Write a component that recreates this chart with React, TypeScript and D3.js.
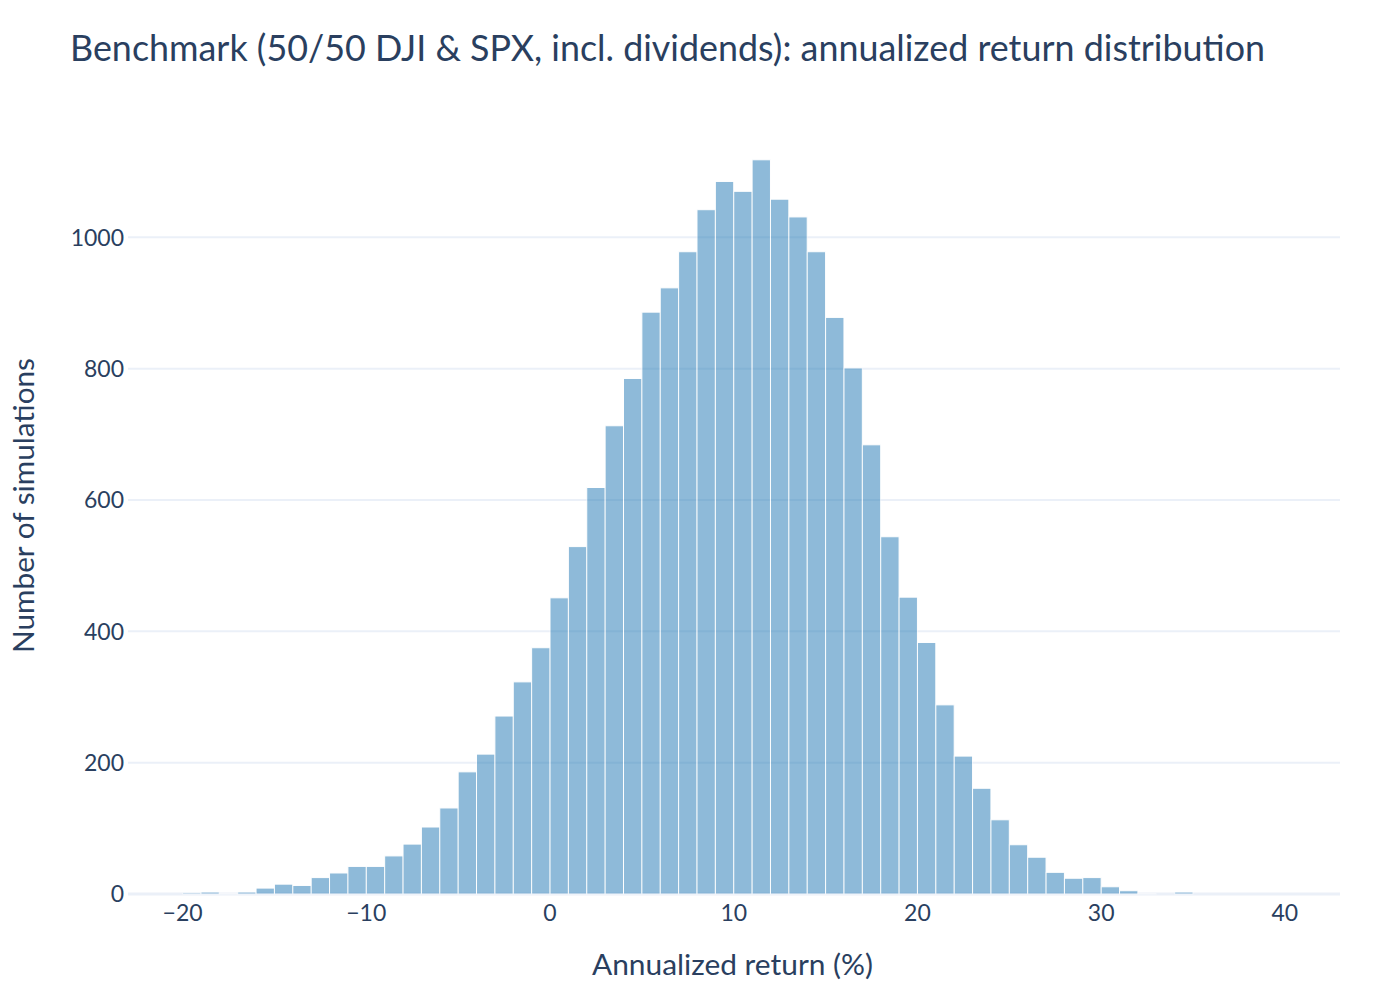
import React from 'react';
import * as d3 from 'd3';

// histogram bins: each bin spans [start, start + 1) in annualized return %
const binStarts = [
  -20, -19, -18, -17, -16, -15, -14, -13, -12, -11,
  -10, -9, -8, -7, -6, -5, -4, -3, -2, -1,
  0, 1, 2, 3, 4, 5, 6, 7, 8, 9,
  10, 11, 12, 13, 14, 15, 16, 17, 18, 19,
  20, 21, 22, 23, 24, 25, 26, 27, 28, 29,
  30, 31, 32, 33, 34,
];
const binCounts = [
  2, 3, 1, 3, 9, 15, 13, 25, 32, 42,
  42, 58, 76, 102, 131, 186, 213, 271, 323, 375,
  451, 529, 619, 713, 785, 886, 923, 978, 1042, 1085,
  1070, 1118, 1058, 1031, 978, 878, 801, 684, 544, 452,
  383, 288, 210, 161, 113, 75, 56, 33, 24, 25,
  11, 5, 1, 0, 3,
];
const binWidth = 1;

const xTicks = [-20, -10, 0, 10, 20, 30, 40];
const yTicks = [0, 200, 400, 600, 800, 1000];

const title = 'Benchmark (50/50 DJI & SPX, incl. dividends): annualized return distribution';
const xTitle = 'Annualized return (%)';
const yTitle = 'Number of simulations';

const W = 1400;
const H = 1000;
const plot = { left: 128, right: 1340, top: 120, bottom: 894 };
const font = 'Lato, "Noto Sans", sans-serif';
const textColor = '#2a3f5f';
const gridColor = '#EBF0F8';

export default function App() {
  const x = d3.scaleLinear().domain([-22.97, 43.0]).range([plot.left, plot.right]);
  const y = d3.scaleLinear().domain([0, 1178.6]).range([plot.bottom, plot.top]);

  const bins = binStarts.map((s, i) => ({ start: s, count: binCounts[i] }));
  const fmt = (v: number) => (v < 0 ? '\u2212' + Math.abs(v) : String(v));

  return (
    <svg
      width={W}
      height={H}
      style={{ position: 'absolute', left: 0, top: 0, background: '#fff' }}
      fontFamily={font}
    >
      {/* gridlines */}
      {yTicks.filter(t => t > 0).map(t => (
        <line key={t} x1={plot.left} x2={plot.right} y1={y(t)} y2={y(t)} stroke={gridColor} strokeWidth={2} />
      ))}
      {/* zero line */}
      <line x1={plot.left} x2={plot.right} y1={y(0)} y2={y(0)} stroke={gridColor} strokeWidth={3} />

      {/* bars */}
      <g>
        {bins.filter(b => b.count > 0).map(b => (
          <rect
            key={b.start}
            x={x(b.start)}
            y={y(b.count)}
            width={x(b.start + binWidth) - x(b.start)}
            height={y(0) - y(b.count)}
            fill="#1f77b4"
            stroke="#fff"
            strokeWidth={1}
            opacity={0.5}
          />
        ))}
      </g>

      {/* y tick labels */}
      {yTicks.map(t => (
        <text key={t} x={124} y={y(t)} dy="0.36em" textAnchor="end" fontSize={23} fill={textColor}>
          {t}
        </text>
      ))}
      {/* x tick labels */}
      {xTicks.map(t => (
        <text key={t} x={x(t)} y={921} textAnchor="middle" fontSize={23} fill={textColor}>
          {fmt(t)}
        </text>
      ))}

      {/* axis titles */}
      <text
        x={732.5}
        y={975}
        textAnchor="middle"
        fontSize={28}
        fill={textColor}
        textLength={281}
        lengthAdjust="spacingAndGlyphs"
      >
        {xTitle}
      </text>
      <text
        transform={`translate(34,505.5) rotate(-90)`}
        textAnchor="middle"
        fontSize={28}
        fill={textColor}
        textLength={295}
        lengthAdjust="spacingAndGlyphs"
      >
        {yTitle}
      </text>

      {/* title */}
      <text
        x={70}
        y={61}
        fontSize={36}
        fill={textColor}
        textLength={1195}
        lengthAdjust="spacingAndGlyphs"
      >
        {title}
      </text>
    </svg>
  );
}
